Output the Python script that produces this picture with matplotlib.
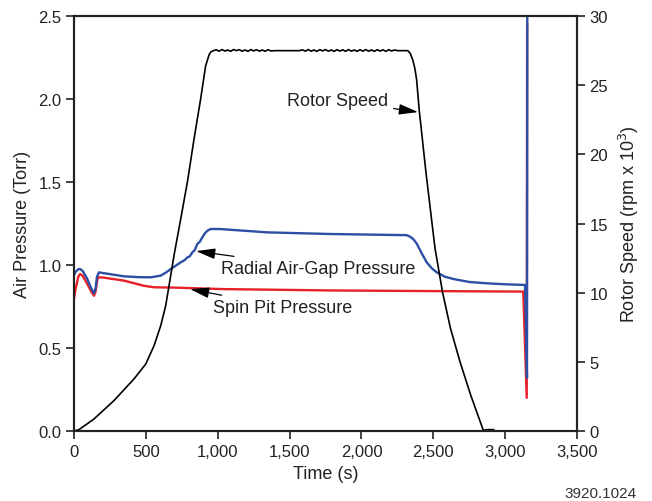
import matplotlib
matplotlib.use("Agg")
import matplotlib.pyplot as plt
import numpy as np
from matplotlib.ticker import FuncFormatter

plt.rcParams['font.family'] = ['Liberation Sans', 'DejaVu Sans']

# rotor speed (rpm x 10^3) vs time (s)
rise_t = [0, 35, 139, 278, 417, 499, 557, 603, 638, 661, 696, 742, 789, 835, 881, 916, 940, 951, 970]
rise_v = [0, 0.1, 0.87, 2.2, 3.76, 4.84, 6.17, 7.6, 9.06, 10.5, 12.7, 15.3, 18.0, 21.1, 24.0,
          26.4, 27.2, 27.4, 27.5]

wig1_t = np.arange(990, 1390, 20)
wig1_v = [27.56, 27.46, 27.58, 27.47, 27.55, 27.45, 27.58, 27.5, 27.57, 27.46, 27.55,
          27.45, 27.58, 27.48, 27.57, 27.46, 27.55, 27.45, 27.57, 27.48]
flat_t = [1400, 1570]
flat_v = [27.5, 27.5]
wig2_t = np.arange(1590, 2260, 20)
wig2_v = [27.56, 27.46, 27.58, 27.46, 27.55, 27.45, 27.57, 27.48, 27.58, 27.46, 27.55, 27.45,
          27.57, 27.47, 27.56, 27.45, 27.58, 27.46, 27.55, 27.45, 27.57, 27.46, 27.58, 27.46,
          27.55, 27.45, 27.57, 27.47, 27.56, 27.45, 27.57, 27.47, 27.55, 27.5]
fall_t = [2270, 2322, 2340, 2358, 2372, 2384, 2402, 2450, 2512, 2565, 2620, 2686, 2760, 2848, 2870, 2920]
fall_v = [27.5, 27.5, 27.3, 26.8, 26.2, 25.4, 23.2, 18.6, 13.2, 10.0, 7.4, 5.0, 2.6, 0.05, 0.1, 0.1]

speed_t = np.concatenate([rise_t, wig1_t, flat_t, wig2_t, fall_t])
speed_v = np.concatenate([rise_v, wig1_v, flat_v, wig2_v, fall_v])

# radial air-gap pressure (Torr)
gap_t = [0, 12, 30, 42, 60, 90, 120, 139, 150, 160, 174, 200, 348, 450, 534, 603, 640, 673,
         742, 770, 789, 805, 823, 840, 858, 875, 893, 910, 928, 951, 1016, 1341, 1781, 2315,
         2340, 2362, 2384, 2420, 2454, 2490, 2524, 2580, 2639, 2750, 2872, 3000, 3138, 3152, 3154]
gap_v = [0.94, 0.96, 0.975, 0.976, 0.965, 0.92, 0.86, 0.83, 0.86, 0.93, 0.956, 0.952, 0.932,
         0.927, 0.926, 0.936, 0.955, 0.976, 1.016, 1.03, 1.046, 1.052, 1.076, 1.09, 1.127,
         1.14, 1.167, 1.19, 1.207, 1.217, 1.217, 1.197, 1.187, 1.18, 1.17, 1.155, 1.13, 1.07,
         1.016, 0.98, 0.956, 0.93, 0.916, 0.898, 0.89, 0.884, 0.88, 0.32, 2.6]

# spin pit pressure (Torr)
pit_t = [0, 12, 30, 42, 60, 90, 120, 139, 150, 160, 167, 200, 348, 487, 557, 700, 1044,
         1781, 2500, 3126, 3150, 3153]
pit_v = [0.8, 0.86, 0.93, 0.946, 0.935, 0.89, 0.84, 0.815, 0.84, 0.9, 0.926, 0.925, 0.906,
         0.875, 0.866, 0.864, 0.855, 0.847, 0.843, 0.84, 0.2, 2.45]

fig = plt.figure(figsize=(6.52, 5.02), dpi=100)
ax = fig.add_axes([0.1135, 0.1394, 0.7715, 0.8266])
ax2 = ax.twinx()

ax.plot(pit_t, pit_v, color='#e8202a', lw=1.7, zorder=3)
ax.plot(gap_t, gap_v, color='#2d4fa3', lw=1.7, zorder=4)
ax2.plot(speed_t, speed_v, color='black', lw=1.2)

ax.set_xlim(0, 3500)
ax.set_ylim(0, 2.5)
ax2.set_ylim(0, 30)
ax.set_xticks(np.arange(0, 3501, 500))
ax.set_yticks(np.arange(0, 2.51, 0.5))
ax2.set_yticks(np.arange(0, 31, 5))
ax.xaxis.set_major_formatter(FuncFormatter(lambda v, p: f"{int(v):,}"))
ax.yaxis.set_major_formatter(FuncFormatter(lambda v, p: f"{v:.1f}"))

for a in (ax, ax2):
    a.tick_params(direction='out', length=6, width=1.2, labelsize=12, colors='#222222', pad=3)
    for s in a.spines.values():
        s.set_linewidth(1.5)
        s.set_color('#222222')

ax.set_xlabel('Time (s)', fontsize=13, color='#222222', labelpad=5)
ax.set_ylabel('Air Pressure (Torr)', fontsize=13, color='#222222', labelpad=5)
ax2.set_ylabel('Rotor Speed (rpm x 10$^3$)', fontsize=13, color='#222222', labelpad=6)

arrow = dict(arrowstyle='-|>,head_length=0.9,head_width=0.25', color='black', lw=0.9,
             shrinkA=2, shrinkB=0)
ax2.annotate('Rotor Speed', xy=(2394, 23.06), xytext=(2185, 23.9), fontsize=13,
             ha='right', va='center', color='#222222', arrowprops=arrow)
ax.annotate('Radial Air-Gap Pressure', xy=(849, 1.084), xytext=(1021, 0.982), fontsize=13,
            ha='left', va='center', color='#222222', arrowprops=arrow)
ax.annotate('Spin Pit Pressure', xy=(807, 0.855), xytext=(967, 0.747), fontsize=13,
            ha='left', va='center', color='#222222', arrowprops=arrow)

fig.text(0.977, 0.016, '3920.1024', fontsize=11, ha='right', va='center', color='#333333')

fig.savefig('out.png', dpi=100)
